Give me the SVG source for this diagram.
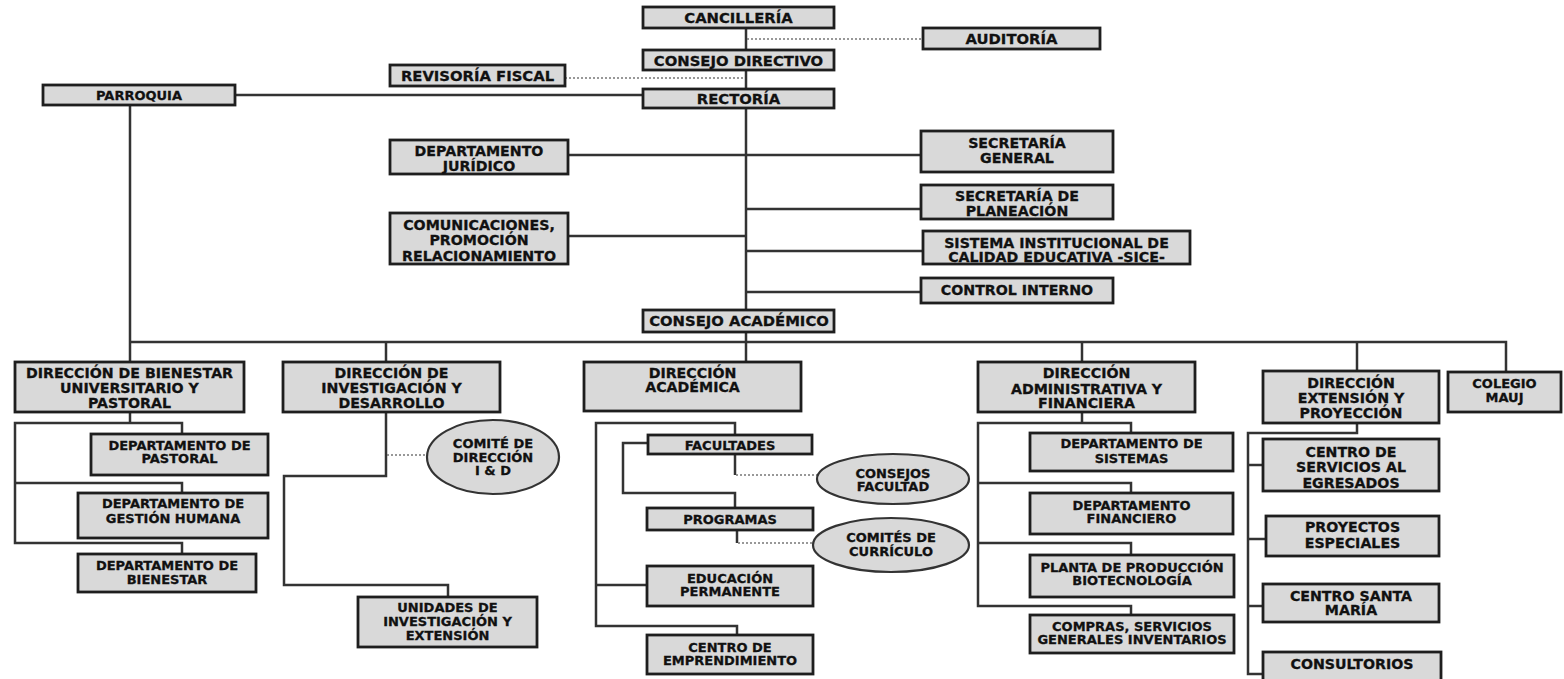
<svg xmlns="http://www.w3.org/2000/svg" width="1564" height="679" viewBox="0 0 1564 679">
  <style>
    .box { fill: #d9d9d9; stroke: #1e1e1e; stroke-width: 2.8; }
    .oval { fill: #d9d9d9; stroke: #333333; stroke-width: 2.2; }
    .line { fill: none; stroke: #333333; stroke-width: 2.5; }
    .dot { fill: none; stroke: #777777; stroke-width: 1.6; stroke-dasharray: 2 2; }
    text { font-family: "DejaVu Sans", "Liberation Sans", sans-serif; font-weight: bold; fill: #111111; stroke: #111111; stroke-width: 0.3; text-anchor: middle; }
    .s15 { font-size: 14.8px; }
    .s14 { font-size: 14.2px; }
    .s13 { font-size: 13px; }
  </style>
  <rect width="1564" height="679" fill="#ffffff"/>

  <!-- connectors -->
  <g id="connectors">
    <!-- main trunk and top-level links -->
    <path class="line" d="M746 28 V342"/>
    <path class="line" d="M235 95 H643"/>
    <path class="line" d="M130 105 V362"/>
    <path class="line" d="M568 155 H921"/>
    <path class="line" d="M746 209 H921"/>
    <path class="line" d="M568 236 H746"/>
    <path class="line" d="M746 251 H923"/>
    <path class="line" d="M746 292 H921"/>
    <!-- horizontal bus under the academic council -->
    <path class="line" d="M130 342 H1506 V372"/>
    <path class="line" d="M386 342 V362"/>
    <path class="line" d="M746 342 V362"/>
    <path class="line" d="M1082 342 V362"/>
    <path class="line" d="M1357 342 V371"/>
    <!-- wellbeing branch -->
    <path class="line" d="M130 412 V423"/>
    <path class="line" d="M182 434 V423 H15 V543 H182 V554"/>
    <path class="line" d="M15 483 H182 V493"/>
    <!-- research branch -->
    <path class="line" d="M386 412 V476 H284 V585 H448 V597"/>
    <!-- academic branch -->
    <path class="line" d="M735 435 V423 H596 V626 H737 V635"/>
    <path class="line" d="M596 585 H647"/>
    <path class="line" d="M648 443 H623 V493 H735 V508"/>
    <path class="line" d="M735 454 V475"/>
    <path class="line" d="M737 530 V543"/>
    <!-- administrative branch -->
    <path class="line" d="M1082 412 V423"/>
    <path class="line" d="M1131 433 V423 H978 V606 H1131 V615"/>
    <path class="line" d="M978 483 H1131 V493"/>
    <path class="line" d="M978 543 H1131 V555"/>
    <!-- extension branch -->
    <path class="line" d="M1357 423 V433 H1248 V674 H1263"/>
    <path class="line" d="M1248 465 H1263"/>
    <path class="line" d="M1248 539 H1266"/>
    <path class="line" d="M1248 606 H1263"/>
    <!-- advisory (dotted) links -->
    <path class="dot" d="M747 39 H923"/>
    <path class="dot" d="M565 78 H745"/>
    <path class="dot" d="M387 455 H427"/>
    <path class="dot" d="M736 475 H817"/>
    <path class="dot" d="M738 543 H813"/>
  </g>

  <!-- nodes -->
  <g id="cancilleria"><rect class="box" x="643" y="7" width="191" height="21"/><text class="s15" x="738.5" y="23">CANCILLERÍA</text></g>
  <g id="auditoria"><rect class="box" x="923" y="28" width="177" height="21"/><text class="s15" x="1011.5" y="44">AUDITORÍA</text></g>
  <g id="consejo-directivo"><rect class="box" x="643" y="50" width="191" height="20"/><text class="s15" x="738.5" y="65.5">CONSEJO DIRECTIVO</text></g>
  <g id="revisoria-fiscal"><rect class="box" x="390" y="65" width="175" height="21"/><text class="s15" x="477.5" y="81">REVISORÍA FISCAL</text></g>
  <g id="rectoria"><rect class="box" x="643" y="89" width="191" height="19"/><text class="s15" x="738.5" y="104">RECTORÍA</text></g>
  <g id="parroquia"><rect class="box" x="43" y="85" width="192" height="20"/><text class="s13" x="139" y="100">PARROQUIA</text></g>

  <g id="departamento-juridico"><rect class="box" x="390" y="140" width="178" height="34"/>
    <text class="s14" x="479"><tspan x="479" y="156">DEPARTAMENTO</tspan><tspan x="479" y="171">JURÍDICO</tspan></text></g>
  <g id="comunicaciones"><rect class="box" x="390" y="213" width="178" height="51"/>
    <text class="s14" x="479"><tspan x="479" y="230">COMUNICACIONES,</tspan><tspan x="479" y="245">PROMOCIÓN</tspan><tspan x="479" y="261">RELACIONAMIENTO</tspan></text></g>
  <g id="secretaria-general"><rect class="box" x="921" y="131" width="192" height="41"/>
    <text class="s14" x="1017"><tspan x="1017" y="148">SECRETARÍA</tspan><tspan x="1017" y="163">GENERAL</tspan></text></g>
  <g id="secretaria-planeacion"><rect class="box" x="921" y="185" width="192" height="34"/>
    <text class="s14" x="1017"><tspan x="1017" y="201">SECRETARÍA DE</tspan><tspan x="1017" y="216">PLANEACIÓN</tspan></text></g>
  <g id="sice"><rect class="box" x="923" y="231" width="267" height="33"/>
    <text class="s14" x="1056.5"><tspan x="1056.5" y="248">SISTEMA INSTITUCIONAL DE</tspan><tspan x="1056.5" y="262">CALIDAD EDUCATIVA -SICE-</tspan></text></g>
  <g id="control-interno"><rect class="box" x="921" y="278" width="192" height="25"/><text class="s14" x="1017" y="295">CONTROL INTERNO</text></g>
  <g id="consejo-academico"><rect class="box" x="643" y="310" width="191" height="22"/><text class="s15" x="739" y="326">CONSEJO ACADÉMICO</text></g>

  <g id="direccion-bienestar"><rect class="box" x="15" y="362" width="229" height="50"/>
    <text class="s14" x="129.5"><tspan x="129.5" y="378">DIRECCIÓN DE BIENESTAR</tspan><tspan x="129.5" y="393">UNIVERSITARIO  Y</tspan><tspan x="129.5" y="408">PASTORAL</tspan></text></g>
  <g id="direccion-investigacion"><rect class="box" x="283" y="362" width="217" height="50"/>
    <text class="s14" x="391.5"><tspan x="391.5" y="378">DIRECCIÓN DE</tspan><tspan x="391.5" y="393">INVESTIGACIÓN Y</tspan><tspan x="391.5" y="408">DESARROLLO</tspan></text></g>
  <g id="direccion-academica"><rect class="box" x="584" y="362" width="217" height="49"/>
    <text class="s14" x="692.5"><tspan x="692.5" y="378">DIRECCIÓN</tspan><tspan x="692.5" y="392">ACADÉMICA</tspan></text></g>
  <g id="direccion-administrativa"><rect class="box" x="978" y="362" width="217" height="50"/>
    <text class="s14" x="1086.5"><tspan x="1086.5" y="378">DIRECCIÓN</tspan><tspan x="1086.5" y="394">ADMINISTRATIVA Y</tspan><tspan x="1086.5" y="408">FINANCIERA</tspan></text></g>
  <g id="direccion-extension"><rect class="box" x="1263" y="371" width="176" height="52"/>
    <text class="s14" x="1351"><tspan x="1351" y="388">DIRECCIÓN</tspan><tspan x="1351" y="403">EXTENSIÓN Y</tspan><tspan x="1351" y="418">PROYECCIÓN</tspan></text></g>
  <g id="colegio-mauj"><rect class="box" x="1448" y="372" width="113" height="40"/>
    <text class="s13" x="1504.5"><tspan x="1504.5" y="388">COLEGIO</tspan><tspan x="1504.5" y="402">MAUJ</tspan></text></g>

  <g id="departamento-pastoral"><rect class="box" x="91" y="434" width="177" height="41"/>
    <text class="s13" x="179.5"><tspan x="179.5" y="450">DEPARTAMENTO DE</tspan><tspan x="179.5" y="463">PASTORAL</tspan></text></g>
  <g id="departamento-gestion-humana"><rect class="box" x="78" y="493" width="190" height="45"/>
    <text class="s13" x="173"><tspan x="173" y="508">DEPARTAMENTO  DE</tspan><tspan x="173" y="523">GESTIÓN HUMANA</tspan></text></g>
  <g id="departamento-bienestar"><rect class="box" x="78" y="554" width="178" height="38"/>
    <text class="s13" x="167"><tspan x="167" y="570">DEPARTAMENTO DE</tspan><tspan x="167" y="584">BIENESTAR</tspan></text></g>

  <g id="comite-direccion-id"><ellipse class="oval" cx="493" cy="457" rx="66" ry="37"/>
    <text class="s13" x="493"><tspan x="493" y="448">COMITÉ DE</tspan><tspan x="493" y="462">DIRECCIÓN</tspan><tspan x="493" y="475">I &amp; D</tspan></text></g>
  <g id="unidades-investigacion"><rect class="box" x="358" y="597" width="179" height="50"/>
    <text class="s13" x="447.5"><tspan x="447.5" y="612">UNIDADES DE</tspan><tspan x="447.5" y="626">INVESTIGACIÓN Y</tspan><tspan x="447.5" y="640">EXTENSIÓN</tspan></text></g>

  <g id="facultades"><rect class="box" x="648" y="435" width="164" height="19"/><text class="s13" x="730" y="450">FACULTADES</text></g>
  <g id="consejos-facultad"><ellipse class="oval" cx="893" cy="479" rx="76" ry="25"/>
    <text class="s13" x="893"><tspan x="893" y="478">CONSEJOS</tspan><tspan x="893" y="491">FACULTAD</tspan></text></g>
  <g id="programas"><rect class="box" x="647" y="508" width="166" height="22"/><text class="s13" x="730" y="524">PROGRAMAS</text></g>
  <g id="comites-curriculo"><ellipse class="oval" cx="891" cy="545" rx="78" ry="27"/>
    <text class="s13" x="891"><tspan x="891" y="542">COMITÉS DE</tspan><tspan x="891" y="556">CURRÍCULO</tspan></text></g>
  <g id="educacion-permanente"><rect class="box" x="647" y="566" width="166" height="40"/>
    <text class="s13" x="730"><tspan x="730" y="583">EDUCACIÓN</tspan><tspan x="730" y="596">PERMANENTE</tspan></text></g>
  <g id="centro-emprendimiento"><rect class="box" x="647" y="635" width="166" height="39"/>
    <text class="s13" x="730"><tspan x="730" y="652">CENTRO DE</tspan><tspan x="730" y="665">EMPRENDIMIENTO</tspan></text></g>

  <g id="departamento-sistemas"><rect class="box" x="1030" y="433" width="203" height="38"/>
    <text class="s13" x="1131.5"><tspan x="1131.5" y="448">DEPARTAMENTO DE</tspan><tspan x="1131.5" y="463">SISTEMAS</tspan></text></g>
  <g id="departamento-financiero"><rect class="box" x="1030" y="493" width="203" height="41"/>
    <text class="s13" x="1131.5"><tspan x="1131.5" y="510">DEPARTAMENTO</tspan><tspan x="1131.5" y="523">FINANCIERO</tspan></text></g>
  <g id="planta-produccion"><rect class="box" x="1030" y="555" width="204" height="42"/>
    <text class="s13" x="1132"><tspan x="1132" y="572">PLANTA DE PRODUCCIÓN</tspan><tspan x="1132" y="585">BIOTECNOLOGÍA</tspan></text></g>
  <g id="compras-servicios"><rect class="box" x="1030" y="615" width="204" height="38"/>
    <text class="s13" x="1132"><tspan x="1132" y="631">COMPRAS, SERVICIOS</tspan><tspan x="1132" y="644">GENERALES INVENTARIOS</tspan></text></g>

  <g id="centro-servicios-egresados"><rect class="box" x="1263" y="439" width="176" height="52"/>
    <text class="s14" x="1351"><tspan x="1351" y="457">CENTRO DE</tspan><tspan x="1351" y="472">SERVICIOS  AL</tspan><tspan x="1351" y="488">EGRESADOS</tspan></text></g>
  <g id="proyectos-especiales"><rect class="box" x="1266" y="516" width="173" height="40"/>
    <text class="s14" x="1352.5"><tspan x="1352.5" y="532">PROYECTOS</tspan><tspan x="1352.5" y="548">ESPECIALES</tspan></text></g>
  <g id="centro-santa-maria"><rect class="box" x="1263" y="584" width="176" height="38"/>
    <text class="s14" x="1351"><tspan x="1351" y="601">CENTRO SANTA</tspan><tspan x="1351" y="615">MARÍA</tspan></text></g>
  <g id="consultorios"><rect class="box" x="1263" y="652" width="178" height="34"/><text class="s14" x="1352" y="669">CONSULTORIOS</text></g>
</svg>
